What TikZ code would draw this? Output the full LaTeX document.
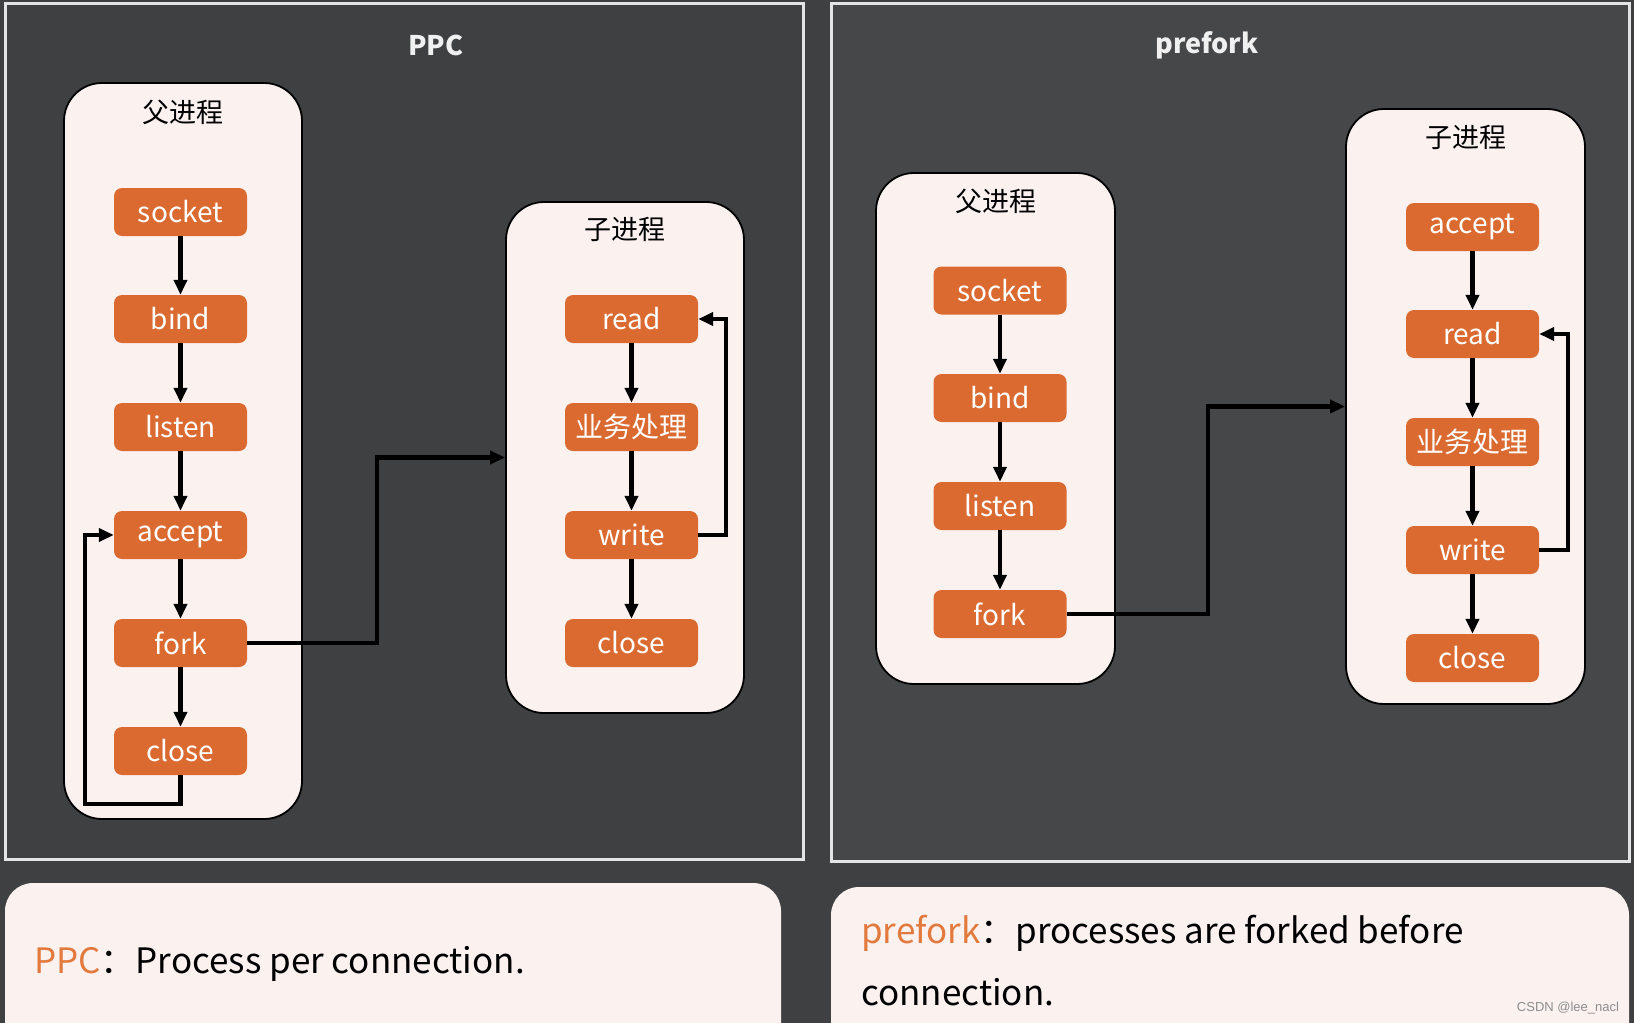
\documentclass[tikz,border=0pt]{standalone}
\usepackage{fontspec}
\setmainfont{Noto Sans CJK SC}
\newfontfamily\wmfont{Liberation Sans}
\usetikzlibrary{arrows.meta}
\definecolor{bgc}{HTML}{3F4042}
\definecolor{bgr}{HTML}{464749}
\definecolor{framec}{HTML}{E4E4E4}
\definecolor{boxo}{HTML}{DB6A31}
\definecolor{pale}{HTML}{FBF2F0}
\definecolor{capo}{HTML}{E27A3E}
\begin{document}
\begin{tikzpicture}[x=1pt,y=-1pt,
  panel/.style={draw=framec,line width=3pt},
  container/.style={draw=black,line width=1.8pt,fill=pale,rounded corners=38pt,inner sep=0pt},
  stepbox/.style={fill=boxo,text=white,rounded corners=8pt,minimum width=133pt,minimum height=48pt,inner sep=0pt,font=\fontsize{28}{30}\selectfont},
  clabel/.style={text=black,font=\fontsize{27}{29}\selectfont,inner sep=0pt},
  ttl/.style={text=white!94!black,font=\bfseries\fontsize{27}{29}\selectfont,inner sep=0pt},
  arr/.style={draw=black,line width=4.3pt,-{Triangle[length=15pt,width=13pt]}},
  capbox/.style={fill=pale,rounded corners=28pt},
  captext/.style={text=black,font=\fontsize{35}{37}\selectfont,inner sep=0pt,anchor=base west}
]
\fill[bgc] (0,0) rectangle (1634,1023);
\useasboundingbox (0,0) rectangle (1634,1023);
\fill[bgr] (831,3) rectangle (1629,861);
\draw[panel] (5,3) rectangle (803,859);
\draw[panel] (831,3) rectangle (1629,861);

% titles
\node[ttl] (t1) at (436,45) {PPC};
\node[ttl] (t2) at (1207,45) {prefork};

% ---------- PPC ----------
\node[container,minimum width=238pt,minimum height=736pt] (ppar) at (183,451) {};
\node[clabel] (pparl) at ([yshift=-30pt]ppar.north) {父进程};
\node[container,minimum width=238pt,minimum height=511pt] (pchild) at (625,457.5) {};
\node[clabel] (pchildl) at ([yshift=-28pt]pchild.north) {子进程};

\node[stepbox] (psocket) at (180.5,212) {socket};
\node[stepbox] (pbind)   at (180.5,319) {bind};
\node[stepbox] (plisten) at (180.5,427) {listen};
\node[stepbox] (paccept) at (180.5,535) {accept};
\node[stepbox] (pfork)   at (180.5,643) {fork};
\node[stepbox] (pclose)  at (180.5,751) {close};

\node[stepbox] (cread)  at (631.5,319) {read};
\node[stepbox] (cbiz)   at (631.5,427) {业务处理};
\node[stepbox] (cwrite) at (631.5,535) {write};
\node[stepbox] (cclose) at (631.5,643) {close};

\draw[arr] (psocket) -- (pbind);
\draw[arr] (pbind) -- (plisten);
\draw[arr] (plisten) -- (paccept);
\draw[arr] (paccept) -- (pfork);
\draw[arr] (pfork) -- (pclose);
\draw[arr] (pclose.south) -- ++(0,29) -| ([xshift=-29pt]paccept.west) -- (paccept.west);
\draw[arr] (pfork.east) -- ++(129.5,0) |- (pchild.west);

\draw[arr] (cread) -- (cbiz);
\draw[arr] (cbiz) -- (cwrite);
\draw[arr] (cwrite) -- (cclose);
\draw[arr] (cwrite.east) -- ++(28,0) |- (cread.east);

% ---------- prefork ----------
\node[container,minimum width=239pt,minimum height=511pt] (fpar) at (995.5,428.5) {};
\node[clabel] (fparl) at ([yshift=-29pt]fpar.north) {父进程};
\node[container,minimum width=239pt,minimum height=595pt] (fchild) at (1465.5,406.5) {};
\node[clabel] (fchildl) at ([yshift=-29pt]fchild.north) {子进程};

\node[stepbox] (fsocket) at (1000,290.5) {socket};
\node[stepbox] (fbind)   at (1000,398) {bind};
\node[stepbox] (flisten) at (1000,506) {listen};
\node[stepbox] (ffork)   at (1000,614) {fork};

\node[stepbox] (gaccept) at (1472.5,227) {accept};
\node[stepbox] (gread)   at (1472.5,334) {read};
\node[stepbox] (gbiz)    at (1472.5,442) {业务处理};
\node[stepbox] (gwrite)  at (1472.5,550) {write};
\node[stepbox] (gclose)  at (1472.5,658) {close};

\draw[arr] (fsocket) -- (fbind);
\draw[arr] (fbind) -- (flisten);
\draw[arr] (flisten) -- (ffork);
\draw[arr] (ffork.east) -- ++(141,0) |- (fchild.west);

\draw[arr] (gaccept) -- (gread);
\draw[arr] (gread) -- (gbiz);
\draw[arr] (gbiz) -- (gwrite);
\draw[arr] (gwrite) -- (gclose);
\draw[arr] (gwrite.east) -- ++(29,0) |- (gread.east);

% ---------- captions ----------
\fill[capbox] (5,883) rectangle (781,1060);
\fill[capbox] (831,887) rectangle (1629,1060);
\node[captext] (cap1) at (34,973) {\textcolor{capo}{PPC}：Process per connection.};
\node[captext] (cap2a) at (861,943) {\textcolor{capo}{prefork}：processes are forked before};
\node[captext] (cap2b) at (861,1005) {connection.};
\node[text=black!45,font=\wmfont\fontsize{13}{15}\selectfont,inner sep=0pt] (wm) at (1568,1008) {CSDN @lee\_nacl};
\end{tikzpicture}
\end{document}
